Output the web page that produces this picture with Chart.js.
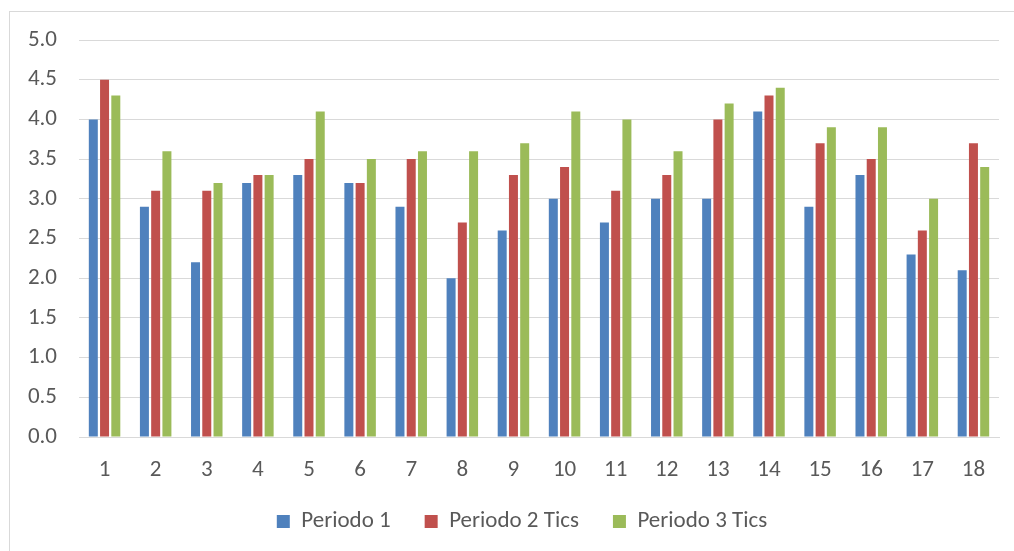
<!DOCTYPE html>
<html>
<head>
<meta charset="utf-8">
<script src="https://cdn.jsdelivr.net/npm/chart.js@4/dist/chart.umd.min.js"></script>
<style>
  html, body { margin: 0; padding: 0; background: #fff; overflow: hidden; }
  #frame { position: absolute; left: 9px; top: 11px; width: 1100px; height: 700px; border: 1px solid #d9d9d9; box-sizing: border-box; }
  #wrap { position: absolute; left: 0; top: 0; width: 1014px; height: 551px; }
</style>
</head>
<body>
<div id="frame"></div>
<div id="wrap"><canvas id="c" width="1014" height="551"></canvas></div>
<script>
const categories = ['1','2','3','4','5','6','7','8','9','10','11','12','13','14','15','16','17','18'];
const periodo1 = [4.0, 2.9, 2.2, 3.2, 3.3, 3.2, 2.9, 2.0, 2.6, 3.0, 2.7, 3.0, 3.0, 4.1, 2.9, 3.3, 2.3, 2.1];
const periodo2 = [4.5, 3.1, 3.1, 3.3, 3.5, 3.2, 3.5, 2.7, 3.3, 3.4, 3.1, 3.3, 4.0, 4.3, 3.7, 3.5, 2.6, 3.7];
const periodo3 = [4.3, 3.6, 3.2, 3.3, 4.1, 3.5, 3.6, 3.6, 3.7, 4.1, 4.0, 3.6, 4.2, 4.4, 3.9, 3.9, 3.0, 3.4];
const seriesNames = ['Periodo 1', 'Periodo 2 Tics', 'Periodo 3 Tics'];
const colors = ['#4f81bd', '#c0504d', '#9bbb59'];

const FONT = 'Carlito, Lato, "Liberation Sans", sans-serif';
const ds = [periodo1, periodo2, periodo3].map((d, i) => ({
  label: seriesNames[i],
  data: d,
  backgroundColor: colors[i],
  borderWidth: 0,
  barPercentage: 0.8,
  categoryPercentage: 0.66
}));

const shiftLegend = {
  id: 'shiftLegend',
  afterLayout(chart) {
    if (chart.legend) { chart.legend.left += 45; }
  }
};

new Chart(document.getElementById('c'), {
  type: 'bar',
  data: { labels: categories, datasets: ds },
  plugins: [shiftLegend],
  options: {
    responsive: false,
    animation: false,
    devicePixelRatio: 1,
    layout: { padding: { left: 0, right: 15, top: 40, bottom: 8 } },
    plugins: {
      tooltip: { enabled: false },
      legend: {
        position: 'bottom',
        maxHeight: 76,
        labels: {
          boxWidth: 13, boxHeight: 13, padding: 34,
          color: '#595959',
          font: { family: FONT, size: 23 }
        }
      }
    },
    scales: {
      x: {
        grid: { display: false, drawTicks: false },
        border: { display: true, color: '#d9d9d9', width: 1 },
        ticks: { color: '#595959', font: { family: FONT, size: 23 }, padding: 19 },
        afterFit: s => { s.height = 39; }
      },
      y: {
        min: 0, max: 5,
        grid: { color: '#d9d9d9', lineWidth: 1, drawTicks: false },
        border: { display: false },
        ticks: {
          stepSize: 0.5,
          color: '#595959',
          font: { family: FONT, size: 23 },
          padding: 22,
          callback: v => Number(v).toFixed(1)
        },
        afterFit: s => { s.width = 79; }
      }
    }
  }
});
</script>
</body>
</html>
